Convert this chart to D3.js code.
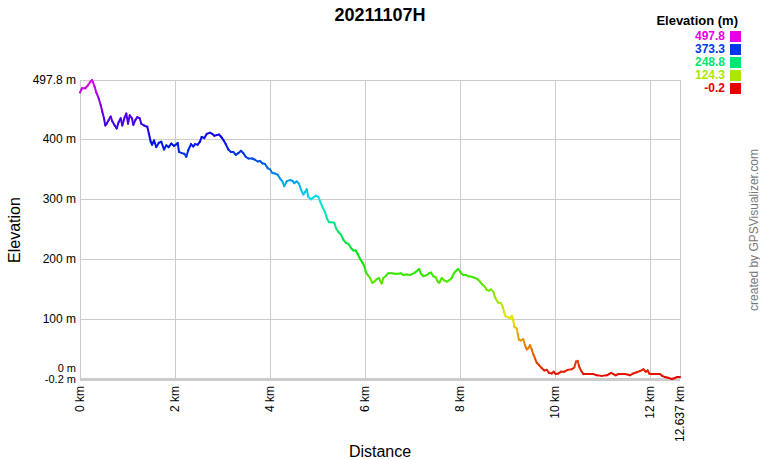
<!DOCTYPE html>
<meta charset="utf-8">
<style>
    body {margin: 0; font-family: 'Liberation Sans', Arial, sans-serif;}
    text {font-family: 'Liberation Sans', Arial, sans-serif;}
</style>

<svg width="760" height="460"></svg>

<script src="https://cdnjs.cloudflare.com/ajax/libs/d3/7.8.5/d3.min.js"></script>
<script>

// distance (km) and elevation (m)
var distKm = [0, 0.042, 0.112, 0.168, 0.217, 0.253, 0.274, 0.310, 0.343, 0.394, 0.436, 0.470, 0.505, 0.533,
  0.562, 0.604, 0.647, 0.680, 0.731, 0.773, 0.815, 0.857, 0.891, 0.941, 0.975, 1.011, 1.047, 1.095, 1.123,
  1.165, 1.207, 1.257, 1.291, 1.348, 1.417, 1.453, 1.489, 1.516, 1.559, 1.607, 1.658, 1.713, 1.769, 1.818,
  1.868, 1.923, 1.980,
  2.016, 2.058, 2.085, 2.142, 2.197, 2.239, 2.281, 2.338, 2.386, 2.422, 2.479, 2.527, 2.563, 2.618, 2.669,
  2.738, 2.787, 2.829, 2.879, 2.928, 2.984, 3.027, 3.069, 3.124, 3.180, 3.229, 3.279, 3.334, 3.391, 3.439,
  3.490, 3.545, 3.629, 3.686, 3.743, 3.791, 3.840, 3.896, 3.953, 4.002, 4.050, 4.107,
  4.164, 4.212, 4.261, 4.303, 4.353, 4.423, 4.472, 4.514, 4.564, 4.613, 4.655, 4.703, 4.739, 4.775, 4.809,
  4.865, 4.914, 4.964, 5.019, 5.061, 5.103, 5.160, 5.202, 5.244, 5.301, 5.356, 5.392, 5.440, 5.497, 5.546,
  5.596, 5.651, 5.708, 5.756, 5.807, 5.849, 5.897, 5.946, 5.988, 6.017, 6.060, 6.108, 6.157, 6.198, 6.249,
  6.298,
  6.319, 6.354, 6.388, 6.439, 6.493, 6.565, 6.634, 6.704, 6.761, 6.809, 6.881, 6.950, 6.999, 7.056, 7.113,
  7.146, 7.182, 7.231, 7.302, 7.350, 7.393, 7.441, 7.492, 7.534, 7.568, 7.618, 7.673, 7.723, 7.772, 7.829,
  7.883, 7.934, 7.968, 8.025, 8.073, 8.124, 8.178, 8.250, 8.319,
  8.376, 8.425, 8.473, 8.530, 8.566, 8.614, 8.656, 8.705, 8.741, 8.776, 8.810, 8.867, 8.903, 8.937, 8.966,
  9.008, 9.057, 9.093, 9.126, 9.147, 9.198, 9.219, 9.246, 9.288, 9.337, 9.373, 9.409, 9.442, 9.478, 9.514,
  9.548, 9.583, 9.619, 9.668, 9.724, 9.779, 9.830, 9.878, 9.935, 9.977, 10.019, 10.074, 10.131, 10.201,
  10.272, 10.356, 10.411, 10.447, 10.483, 10.510,
  10.552, 10.601, 10.706, 10.811, 10.883, 10.988, 11.093, 11.142, 11.184, 11.233, 11.283, 11.338, 11.410,
  11.479, 11.548, 11.584, 11.654, 11.725, 11.794, 11.865, 11.915, 11.957, 11.984, 12.026, 12.110, 12.216,
  12.264, 12.321, 12.384, 12.459, 12.517, 12.567, 12.637];

var elevM = [477, 484, 484, 489, 495, 497.8, 494, 486, 477, 467, 456, 445, 434, 422,
  425, 431, 437, 429, 422, 417, 428, 434, 422, 436, 442, 425, 439, 434, 423,
  431, 436, 434, 425, 422, 420, 408, 395, 390, 397, 386, 393, 395, 382, 389,
  386, 392, 388,
  390, 393, 378, 376, 375, 370, 381, 391, 387, 391, 390, 395, 403, 401, 408,
  410, 408, 405, 406, 407, 402, 397, 391, 382, 378, 378, 373, 376, 380, 376,
  370, 367, 367, 365, 362, 363, 359, 358, 351, 349, 343, 342,
  340, 334, 329, 321, 329, 331, 330, 326, 329, 325, 315, 307, 311, 316, 303,
  299, 302, 305, 303, 295, 287, 278, 267, 261, 261, 260, 251, 245, 240, 232,
  227, 225, 218, 214, 214, 208, 200, 194, 188, 179, 173, 168, 160, 162, 166,
  168,
  164, 159, 168, 171, 176, 176, 175, 175, 176, 173, 174, 173, 175, 177, 181,
  183, 175, 171, 173, 176, 177, 171, 169, 162, 160, 168, 164, 162, 164, 168,
  177, 181, 183, 176, 173, 173, 171, 170, 168,
  166, 162, 157, 153, 148, 147, 149, 145, 136, 131, 127, 126, 120, 110, 104,
  103, 101, 105, 98, 87, 84, 75, 65, 64, 66, 56, 49, 51, 56, 49,
  41, 34, 27, 23, 18, 14, 15, 10, 9, 12, 8, 9, 12, 12,
  15, 16, 19, 29, 30, 21,
  14, 8, 8, 8, 6, 5, 6, 8, 10, 8, 6, 8, 8,
  8, 7, 6, 9, 11, 13, 16, 12, 14, 9, 8, 8, 8,
  5, 3, 2, -0.2, 1, 3, 3];

var xTicks = [0, 2, 4, 6, 8, 10, 12, 12.637];
var xTickLabels = ["0 km", "2 km", "4 km", "6 km", "8 km", "10 km", "12 km", "12.637 km"];
var yTicks = [-0.2, 0, 100, 200, 300, 400, 497.8];
var yTickLabels = ["-0.2 m", "0 m", "100 m", "200 m", "300 m", "400 m", "497.8 m"];
var legendValues = [497.8, 373.3, 248.8, 124.3, -0.2];

var svg = d3.select("svg"),
    width = +svg.attr("width"),
    height = +svg.attr("height");

var minE = -0.2, maxE = 497.8;

var x = d3.scaleLinear().domain([0, 12.637]).range([80, 680]);
var y = d3.scaleLinear().domain([minE, maxE]).range([379, 80]);

function elevColor(e) {
  var h = 300 * (e - minE) / (maxE - minE);
  return d3.hsl(h, 1, 0.45).toString();
}

// grid
var grid = svg.append("g").style("stroke", "#cccccc").style("stroke-width", 1).style("shape-rendering", "crispEdges");

grid.selectAll("line.v")
  .data(xTicks)
  .enter().append("line")
  .attr("x1", function(d) { return Math.round(x(d)) + 0.5; })
  .attr("x2", function(d) { return Math.round(x(d)) + 0.5; })
  .attr("y1", y(maxE))
  .attr("y2", y(minE));

grid.selectAll("line.h")
  .data(yTicks.filter(function(d) { return d !== 0; }))
  .enter().append("line")
  .attr("x1", x(0))
  .attr("x2", x(12.637))
  .attr("y1", function(d) { return Math.round(y(d)) + 0.5; })
  .attr("y2", function(d) { return Math.round(y(d)) + 0.5; })
  .style("stroke-width", function(d) { return d === minE ? 3 : 1; });

// profile line, coloured by elevation
var pts = distKm.map(function(d, i) { return [d, elevM[i]]; });
var segs = d3.pairs(pts);

svg.append("g")
  .selectAll("line")
  .data(segs)
  .enter().append("line")
  .attr("x1", function(d) { return x(d[0][0]); })
  .attr("y1", function(d) { return y(d[0][1]); })
  .attr("x2", function(d) { return x(d[1][0]); })
  .attr("y2", function(d) { return y(d[1][1]); })
  .style("stroke", function(d) { return elevColor((d[0][1] + d[1][1]) / 2); })
  .style("stroke-width", 2)
  .style("stroke-linecap", "round");

// y labels (0 m and -0.2 m squeezed apart like the original)
svg.append("g")
  .selectAll("text")
  .data(yTicks)
  .enter().append("text")
  .attr("x", 76)
  .attr("y", function(d) {
    if (d === 0) return y(d) - 7;
    if (d === minE) return y(d) + 4;
    return y(d) + 4;
  })
  .attr("text-anchor", "end")
  .style("font-size", function(d) { return (d === 0 || d === minE) ? "11px" : "12px"; })
  .style("fill", "#000")
  .text(function(d, i) { return yTickLabels[i]; });

// x labels, rotated
svg.append("g")
  .selectAll("text")
  .data(xTicks)
  .enter().append("text")
  .attr("transform", function(d) { return "translate(" + (x(d) + 4) + ",386) rotate(-90)"; })
  .attr("text-anchor", "end")
  .style("font-size", "12px")
  .style("fill", "#000")
  .text(function(d, i) { return xTickLabels[i]; });

// titles
svg.append("text")
  .attr("x", 380)
  .attr("y", 21)
  .attr("text-anchor", "middle")
  .style("font-size", "18px")
  .style("font-weight", "bold")
  .text("20211107H");

svg.append("text")
  .attr("x", 380)
  .attr("y", 457)
  .attr("text-anchor", "middle")
  .style("font-size", "16px")
  .text("Distance");

svg.append("text")
  .attr("transform", "translate(20,230) rotate(-90)")
  .attr("text-anchor", "middle")
  .style("font-size", "16px")
  .text("Elevation");

svg.append("text")
  .attr("transform", "translate(758,230) rotate(-90)")
  .attr("text-anchor", "middle")
  .style("font-size", "12px")
  .style("fill", "#777")
  .text("created by GPSVisualizer.com");

// legend
svg.append("text")
  .attr("x", 738)
  .attr("y", 25)
  .attr("text-anchor", "end")
  .style("font-size", "13px")
  .style("font-weight", "bold")
  .text("Elevation (m)");

var legend = svg.append("g")
  .selectAll("g")
  .data(legendValues)
  .enter().append("g");

legend.append("text")
  .attr("x", 725)
  .attr("y", function(d, i) { return 40 + i * 13; })
  .attr("text-anchor", "end")
  .style("font-size", "12px")
  .style("font-weight", "bold")
  .style("fill", function(d) { return elevColor(d); })
  .text(function(d) { return d.toFixed(1); });

legend.append("rect")
  .attr("x", 730)
  .attr("y", function(d, i) { return 31 + i * 13; })
  .attr("width", 11)
  .attr("height", 11)
  .style("fill", function(d) { return elevColor(d); });

</script>
